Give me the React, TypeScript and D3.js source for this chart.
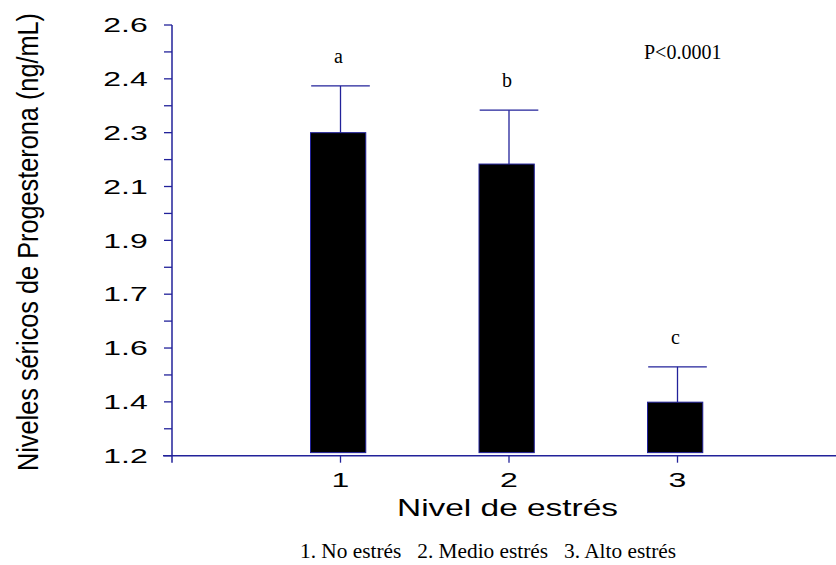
import React from 'react';
import * as d3 from 'd3';

// Data
const categories = [1, 2, 3];
const means = [2.25, 2.148, 1.374];
const errors = [0.152, 0.175, 0.115];
const groupLetters = ['a', 'b', 'c'];
const yTickLabels = ['1.2', '1.4', '1.6', '1.7', '1.9', '2.1', '2.3', '2.4', '2.6'];
const captionText = '1. No estrés\u00a0\u00a0\u00a02. Medio estrés\u00a0\u00a0\u00a03. Alto estrés';

const W = 836;
const H = 565;
const axisColor = '#22229a';
const sans = 'Arial, "Liberation Sans", sans-serif';
const serif = '"Times New Roman", "Liberation Serif", serif';

const App = () => {
  const y = d3.scaleLinear().domain([1.2, 2.6]).range([455.7, 25]);
  const x = d3.scaleLinear().domain([0, 4]).range([172, 846]);
  const baseline = 1.21;
  const step = (2.6 - 1.2) / (yTickLabels.length - 1);
  const majorTicks = yTickLabels.map((_, i) => 1.2 + i * step);
  const allTicks = d3.range(0, (yTickLabels.length - 1) * 2 + 1).map(i => 1.2 + (i * step) / 2);

  const barLeft = 0.178;   // in x units, bars sit slightly left of the tick
  const barWidth = 0.328;
  const capHalf = 0.174;

  return (
    <svg width={W} height={H} style={{ position: 'absolute', left: 0, top: 0, background: '#fff' }}>
      {/* y axis title */}
      <text
        transform={`translate(38,242) scale(1.2,1) rotate(-90)`}
        textAnchor="middle"
        fontFamily={sans}
        fontSize={25}
        textLength={458}
        lengthAdjust="spacingAndGlyphs"
        fill="#000"
      >
        Niveles séricos de Progesterona (ng/mL)
      </text>

      {/* bars */}
      {categories.map((c, i) => (
        <rect
          key={'bar' + c}
          x={x(c - barLeft)}
          y={y(means[i])}
          width={x(barWidth) - x(0)}
          height={y(baseline) - y(means[i])}
          fill="#000"
          stroke={axisColor}
          strokeWidth={1}
        />
      ))}

      {/* error bars */}
      {categories.map((c, i) => (
        <g key={'err' + c} stroke={axisColor} strokeWidth={1.3}>
          <line x1={x(c)} x2={x(c)} y1={y(means[i])} y2={y(means[i] + errors[i])} />
          <line
            x1={x(c - capHalf)}
            x2={x(c + capHalf)}
            y1={y(means[i] + errors[i])}
            y2={y(means[i] + errors[i])}
          />
        </g>
      ))}

      {/* letters */}
      {categories.map((c, i) => (
        <text
          key={'lt' + c}
          x={x(c) - 2}
          y={y(means[i] + errors[i]) - 23}
          textAnchor="middle"
          fontFamily={serif}
          fontSize={20}
          fill="#000"
        >
          {groupLetters[i]}
        </text>
      ))}

      {/* y axis */}
      <line x1={x(0)} x2={x(0)} y1={y(2.6)} y2={y(1.2) + 7} stroke={axisColor} strokeWidth={1.5} />
      {allTicks.map((t, i) => (
        <line key={'yt' + i} x1={x(0) - 8} x2={x(0)} y1={y(t)} y2={y(t)} stroke={axisColor} strokeWidth={1.3} />
      ))}
      {majorTicks.map((t, i) => (
        <text
          key={'yl' + i}
          transform={`translate(147.7,${y(t) + 7.2}) scale(1.6,1)`}
          textAnchor="end"
          fontFamily={sans}
          fontSize={20}
          fill="#000"
        >
          {yTickLabels[i]}
        </text>
      ))}

      {/* x axis */}
      <line x1={x(0) - 9} x2={W} y1={y(1.2)} y2={y(1.2)} stroke={axisColor} strokeWidth={1.5} />
      {categories.map(c => (
        <g key={'xt' + c}>
          <line x1={x(c)} x2={x(c)} y1={y(1.2)} y2={y(1.2) + 7} stroke={axisColor} strokeWidth={1.3} />
          <text
            transform={`translate(${x(c)},${y(1.2) + 31}) scale(1.6,1)`}
            textAnchor="middle"
            fontFamily={sans}
            fontSize={20}
            fill="#000"
          >
            {c}
          </text>
        </g>
      ))}

      {/* x axis title */}
      <text
        x={507.5}
        y={516}
        textAnchor="middle"
        fontFamily={sans}
        fontSize={24}
        textLength={221}
        lengthAdjust="spacingAndGlyphs"
        fill="#000"
      >
        Nivel de estrés
      </text>

      {/* p-value */}
      <text x={644} y={59} fontFamily={serif} fontSize={20} fill="#000">
        P&lt;0.0001
      </text>

      {/* caption */}
      <text
        x={488}
        y={558}
        textAnchor="middle"
        fontFamily={serif}
        fontSize={20}
        textLength={376}
        lengthAdjust="spacingAndGlyphs"
        fill="#000"
      >
        {captionText}
      </text>
    </svg>
  );
};

export default App;
